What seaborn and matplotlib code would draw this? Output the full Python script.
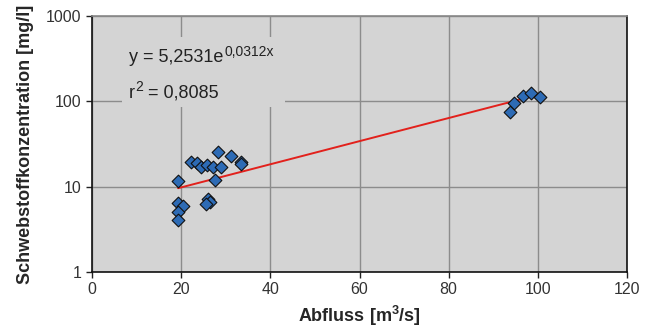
import numpy as np
import pandas as pd
import matplotlib
matplotlib.use('Agg')
import matplotlib.pyplot as plt
import matplotlib.patches as mpatches
import seaborn as sns

# ─── DATA ───────────────────────────────────────────────────────────────────
abfluss = [19.4, 19.4, 20.3, 19.3, 19.3, 22.1, 23.5, 24.5, 25.8, 27.1, 29.0,
           28.3, 31.1, 33.4, 33.4, 27.7, 26.1, 26.4, 25.6,
           93.7, 94.7, 96.6, 98.5, 100.5]
konz = [11.7, 6.5, 5.9, 5.1, 4.1, 19.4, 18.7, 17.1, 17.9, 17.1, 17.1,
        25.6, 23.0, 19.6, 18.3, 11.9, 7.1, 6.7, 6.25,
        74.3, 96.3, 116, 124, 113]
fit_a = 5.2531
fit_b = 0.0312
x_ticks = [0, 20, 40, 60, 80, 100, 120]
y_ticks = [1, 10, 100, 1000]

df = pd.DataFrame({'Abfluss': abfluss, 'Konz': konz})

# ─── STYLE ──────────────────────────────────────────────────────────────────
sns.set_style('white')
plt.rcParams['font.family'] = ['Liberation Sans', 'DejaVu Sans']
plt.rcParams['mathtext.fontset'] = 'custom'
plt.rcParams['mathtext.rm'] = 'Liberation Sans'
plt.rcParams['mathtext.it'] = 'Liberation Sans'
plt.rcParams['mathtext.bf'] = 'Liberation Sans:bold'

BG = '#d4d4d4'
GRID = '#8c8c8c'
TXT = '#222222'

fig = plt.figure(figsize=(6.48, 3.27), dpi=100)
ax = fig.add_axes([92 / 648, 1 - 272 / 327, 535 / 648, 256 / 327])
ax.set_facecolor(BG)

ax.set_yscale('log')
ax.set_xlim(0, 120)
ax.set_ylim(1, 1000)
ax.set_xticks(x_ticks)
ax.set_xticklabels([str(t) for t in x_ticks])
ax.set_yticks(y_ticks)
ax.set_yticklabels([str(t) for t in y_ticks])
ax.minorticks_off()
ax.grid(True, color=GRID, linewidth=1.0, zorder=0)
ax.set_axisbelow(True)

# label box hides the grid behind the equation
ax.add_patch(mpatches.Rectangle((6.7, 86), 36.6, 480, facecolor=BG,
                                edgecolor='none', zorder=1))

# trend line
xs = np.linspace(min(abfluss), max(abfluss), 100)
ax.plot(xs, fit_a * np.exp(fit_b * xs), color='#e2211c', linewidth=1.4, zorder=3)

sns.scatterplot(data=df, x='Abfluss', y='Konz', marker='D', s=42,
                color='#2d6bb5', edgecolor='#111111', linewidth=0.8,
                ax=ax, zorder=4)

# equation with separate superscripts (Excel look)
t1 = ax.text(8.3, 322, 'y = 5,2531e', fontsize=13, color=TXT,
             va='center', ha='left', zorder=2)
ax.annotate('0,0312x', xy=(1, 1), xycoords=t1, xytext=(0.5, 3),
            textcoords='offset points', fontsize=10, color=TXT,
            va='top', ha='left', zorder=2)
t2 = ax.text(8.3, 125, 'r', fontsize=13, color=TXT,
             va='center', ha='left', zorder=2)
t3 = ax.annotate('2', xy=(1, 1), xycoords=t2, xytext=(0.3, 3),
                 textcoords='offset points', fontsize=10, color=TXT,
                 va='top', ha='left', zorder=2)
ax.annotate(' = 0,8085', xy=(1, 0), xycoords=(t3, t2), xytext=(0, 0),
            textcoords='offset points', fontsize=13, color=TXT,
            va='bottom', ha='left', zorder=2)

ax.set_xlabel('Abfluss [m$^{\\mathbf{3}}$/s]', fontsize=13, fontweight='bold', labelpad=5)
ax.set_ylabel('Schwebstoffkonzentration [mg/l]', fontsize=13, fontweight='bold', labelpad=9)

ax.tick_params(axis='both', labelsize=11.5, length=4, width=1, colors=TXT,
               direction='out', bottom=True, left=True)
ax.tick_params(axis='both', labelcolor='#333333')

for side in ['left', 'bottom', 'right']:
    ax.spines[side].set_color('#111111')
    ax.spines[side].set_linewidth(1.2)
ax.spines['top'].set_color('#888888')
ax.spines['top'].set_linewidth(1.2)

fig.savefig('out.png', dpi=100, facecolor='white')
